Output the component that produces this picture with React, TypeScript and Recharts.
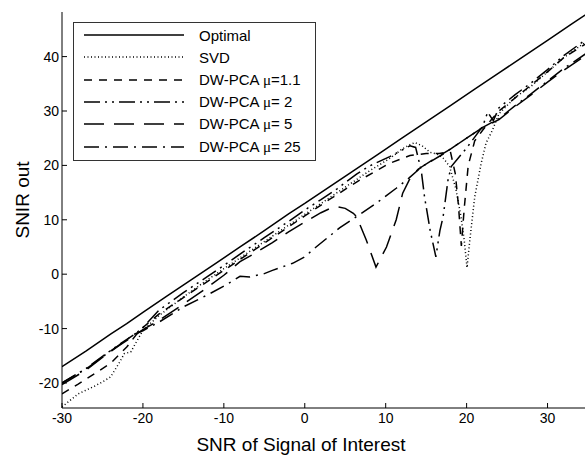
import React from "react";
import { LineChart, Line, XAxis, YAxis, Legend } from "recharts";

const FONT = "Arial, 'Liberation Sans', Helvetica, sans-serif";

const xTicks = [-30, -20, -10, 0, 10, 20, 30];
const yTicks = [-20, -10, 0, 10, 20, 30, 40];

// Optimal
const optX = [-30, -27, -24, -22, -20, -17, -14, -11, -8, -5, -2, 0, 3, 6, 9, 12, 15, 18, 21, 24, 27, 30, 33, 35];
const optY = [-17, -14.1, -11.0, -9.1, -7.0, -4.0, -1.0, 2.0, 5.0, 8.0, 11.1, 13.0, 16.0, 19.0, 22.0, 25.0, 28.0, 31.0, 34.0, 37.0, 40.0, 43.0, 46.0, 48.0];

// SVD
const svdX = [-30, -28, -26, -25, -24, -23, -22.3, -21.5, -20, -18, -15, -12, -10, -8, -5, -2, 0, 2, 4, 6, 8, 10, 11, 12, 13, 13.6, 14.5, 15.5, 16.5, 17.2, 17.9, 18.7, 19.3, 19.7, 20.05, 20.4, 21, 21.8, 22.4, 23.2, 24, 26, 28, 30, 32, 35];
const svdY = [-24.4, -22, -20.6, -19.8, -18.9, -16.5, -14.6, -14.3, -10.3, -7.6, -4.2, -1.0, 1.0, 3.0, 6.0, 9.0, 11.0, 13.0, 15.0, 17.0, 19.0, 20.8, 21.8, 23.0, 23.8, 24.2, 23.6, 22.4, 22.0, 21.2, 19.8, 15.5, 10.6, 6.3, 1.2, 6.3, 14.2, 20.4, 24.1, 26.5, 29.5, 32.5, 34.6, 37.2, 39.8, 43.0];

// DW-PCA mu=1.1
const mu11X = [-30, -28, -26, -24, -22, -20.4, -18, -15, -12, -10, -8, -5, -2, 0, 3, 6.8, 10.5, 13, 15, 16.6, 18, 18.6, 19, 19.35, 19.7, 20.2, 21, 22, 23, 24, 26, 28, 30, 32, 35];
const mu11Y = [-22, -20.2, -18.3, -16.4, -13.4, -10.3, -7.3, -4.3, -1.3, 0.7, 2.7, 5.7, 8.7, 10.7, 13.7, 17.3, 20.4, 21.8, 22.2, 22.2, 22.5, 18.5, 12.5, 5.2, 12, 20, 24.5, 26.5, 28.3, 30, 32.4, 34.8, 37.2, 39.8, 42.6];

// DW-PCA mu=2
const mu2X = [-30, -27, -25, -23, -21, -20, -18, -15, -12, -10, -8, -5, -2, 0, 2, 4, 6.4, 8, 10.5, 12, 13, 13.7, 14.4, 14.8, 15.5, 16.2, 16.7, 17.1, 17.7, 18.1, 19, 20, 21, 22, 22.6, 23.3, 24, 26, 28, 30, 32, 35];
const mu2Y = [-20, -17.3, -15.1, -13, -11, -9.8, -6.6, -3.4, -0.4, 1.6, 3.7, 6.7, 9.7, 11.8, 13.7, 15.7, 18.4, 19.9, 21.6, 22.8, 23.6, 23.3, 19, 14.2, 8, 3.2, 8, 10.6, 17.3, 19.8, 21.4, 23.2, 25.2, 27.2, 29.8, 28.2, 30.6, 33, 35.2, 37.6, 40.2, 43.4];

// DW-PCA mu=5
const mu5X = [-30, -27, -25, -23, -21, -20, -18, -15, -12, -10, -8, -6, -4, -2, 0, 2, 3, 4, 5, 6, 6.4, 7.6, 8.8, 10.1, 11.3, 12.1, 12.9, 14, 16, 18, 20, 22, 24, 26, 28, 30, 32, 35];
const mu5Y = [-20.3, -17.6, -15.3, -13.2, -11.2, -10.2, -8.5, -5.5, -2.4, -0.2, 2.3, 4.0, 5.8, 7.8, 9.6, 11.3, 12.0, 12.4, 12.1, 11.2, 10.6, 6.3, 1.3, 5.0, 10.0, 14.9, 17.3, 19.3, 21.2, 23.0, 25.0, 27.0, 28.4, 30.8, 33.0, 35.3, 37.5, 40.5];

// DW-PCA mu=25
const mu25X = [-30, -27, -25, -23, -21, -20, -18, -15, -12, -10, -8, -6.8, -5, -4, -1.5, 0, 1.4, 4.3, 6.4, 8.8, 11.3, 12.9, 14.5, 17, 20, 22, 24, 26, 28, 30, 32, 35];
const mu25Y = [-20, -17.4, -15.2, -13.1, -11, -10.4, -8.8, -6.0, -3.8, -2.2, -0.4, -0.5, 0.1, 0.7, 2.0, 3.2, 5.0, 8.5, 10.6, 13.0, 15.8, 17.7, 19.8, 22.0, 25.0, 27.0, 28.6, 31.0, 33.2, 35.5, 37.8, 40.8];

const toPoints = (xs: number[], ys: number[]) => xs.map((x, i) => ({ x, y: ys[i] }));

const series = [
  { key: "opt", label: "Optimal", mu: "", data: toPoints(optX, optY), dash: undefined as string | undefined },
  { key: "svd", label: "SVD", mu: "", data: toPoints(svdX, svdY), dash: "1 2.5" },
  { key: "mu11", label: "DW-PCA ", mu: "=1.1", data: toPoints(mu11X, mu11Y), dash: "8 7" },
  { key: "mu2", label: "DW-PCA ", mu: "= 2", data: toPoints(mu2X, mu2Y), dash: "16 5 2 5 2 5" },
  { key: "mu5", label: "DW-PCA ", mu: "= 5", data: toPoints(mu5X, mu5Y), dash: "20 10" },
  { key: "mu25", label: "DW-PCA ", mu: "= 25", data: toPoints(mu25X, mu25Y), dash: "15 6 2 6" },
];

function LegendBox() {
  return (
    <div style={{
      border: "1px solid #333", background: "#fff", width: 241, height: 136,
      paddingTop: 1, boxSizing: "content-box", fontFamily: FONT, fontSize: 15, color: "#000",
    }}>
      {series.map(s => (
        <div key={s.key} style={{ display: "flex", alignItems: "center", height: 22.3 }}>
          <svg width={120} height={10} style={{ marginLeft: 10, flexShrink: 0 }}>
            <line x1={0} y1={5} x2={100} y2={5} stroke="#000" strokeWidth={1.6} strokeDasharray={s.dash} />
          </svg>
          <span style={{ marginLeft: -5, whiteSpace: "nowrap", lineHeight: 1 }}>
            {s.label}
            {s.mu && <span style={{ fontFamily: "'Liberation Serif', 'DejaVu Serif', serif" }}>μ</span>}
            {s.mu}
          </span>
        </div>
      ))}
    </div>
  );
}

export default function App() {
  const tickStyle = { fill: "#000", fontSize: 14, fontFamily: FONT };
  return (
    <div style={{ position: "absolute", left: 0, top: 0, width: 585, height: 455, overflow: "hidden", background: "#fff" }}>
      <LineChart width={600} height={455} margin={{ top: 12, right: 12, bottom: 0, left: 0 }}>
        <XAxis
          dataKey="x"
          type="number"
          domain={[-30, 35]}
          ticks={xTicks}
          allowDataOverflow
          height={47}
          tickSize={-5}
          tickMargin={10}
          tick={tickStyle}
          stroke="#000"
          label={{
            content: () => (
              <text x={301} y={451} textAnchor="middle" fontSize={19} fontFamily={FONT} fill="#000">
                SNR of Signal of Interest
              </text>
            ),
          }}
        />
        <XAxis
          xAxisId="top"
          orientation="top"
          type="number"
          domain={[-30, 35]}
          ticks={xTicks}
          height={0}
          tickSize={-5}
          tick={false}
          stroke="#000"
        />
        <YAxis
          type="number"
          domain={[-24.6, 48.2]}
          ticks={yTicks}
          allowDataOverflow
          width={62}
          tickSize={-5}
          tickMargin={8}
          tick={tickStyle}
          stroke="#000"
          label={{
            content: () => (
              <text x={-200} y={29} transform="rotate(-90)" textAnchor="middle" fontSize={19} fontFamily={FONT} fill="#000">
                SNIR out
              </text>
            ),
          }}
        />
        <YAxis
          yAxisId="right"
          orientation="right"
          type="number"
          domain={[-24.6, 48.2]}
          ticks={yTicks}
          width={0}
          tickSize={-5}
          tick={false}
          stroke="#000"
        />
        <Legend
          layout="vertical"
          align="center"
          verticalAlign="middle"
          content={() => <LegendBox />}
          wrapperStyle={{ left: 73, top: 22, width: 243, height: 138 }}
        />
        {series.map(s => (
          <Line
            key={s.key}
            data={s.data}
            dataKey="y"
            type="linear"
            stroke="#000"
            strokeWidth={1.5}
            strokeDasharray={s.dash}
            dot={false}
            activeDot={false}
            isAnimationActive={false}
          />
        ))}
      </LineChart>
    </div>
  );
}
